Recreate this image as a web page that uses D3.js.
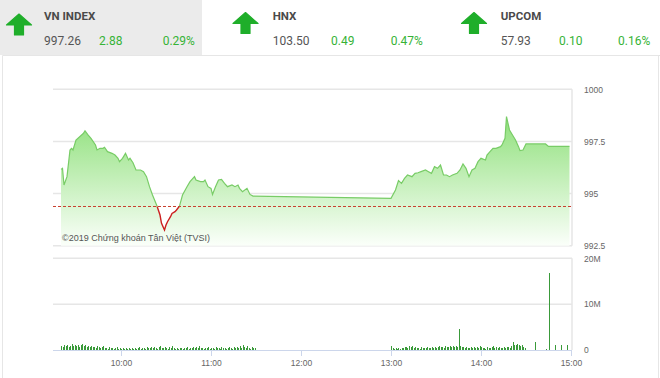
<!DOCTYPE html>
<html>
<head>
<meta charset="utf-8">
<script src="https://cdnjs.cloudflare.com/ajax/libs/d3/7.8.5/d3.min.js"></script>
<style>
body{margin:0;background:#fff;}
svg{display:block;}
.hdr{font-family:Roboto, 'Liberation Sans', sans-serif;}
.ax text{font-family:'Liberation Sans', Arial, sans-serif;font-size:8.5px;fill:#666;}
</style>
</head>
<body>
<svg id="chart" width="660" height="378"></svg>
<script>
// index summary (header boxes)
var indexNames = ['VN INDEX', 'HNX', 'UPCOM'];
var indexValues = ['997.26', '103.50', '57.93'];
var indexChanges = ['2.88', '0.49', '0.10'];
var indexPercents = ['0.29%', '0.47%', '0.16%'];

// VN-Index intraday, previous close = reference
var refPrice = 994.38;
var priceTimes = ['09:20','09:21','09:22','09:24','09:26','09:27','09:28','09:30','09:33','09:35',
	'09:36','09:38','09:40','09:43','09:44','09:46','09:48','09:49','09:51','09:54',
	'09:56','09:58','09:59','10:01','10:03','10:05','10:06','10:08','10:10','10:13',
	'10:15','10:17','10:19','10:21','10:24','10:26','10:27','10:29','10:30','10:31',
	'10:33','10:34','10:36','10:37','10:39','10:41','10:44','10:46','10:49','10:50',
	'10:53','10:55','10:56','10:58','11:00','11:01','11:03','11:05','11:07','11:09',
	'11:11','11:14','11:16','11:18','11:19','11:21','11:24','11:26','11:28',
	'13:00','13:03','13:05','13:07','13:09','13:11','13:14','13:16','13:18','13:20',
	'13:23','13:25','13:27','13:29','13:31','13:33','13:35','13:37','13:39','13:41',
	'13:44','13:46','13:48','13:50','13:52','13:54','13:56','13:58','14:00','14:03',
	'14:04','14:06','14:08','14:10','14:13','14:14','14:16','14:17','14:19','14:21',
	'14:23','14:25','14:26','14:28','14:30','14:43','14:45','14:59'];
var priceValues = [996.16,996.21,995.41,995.81,997.09,997.17,997.09,997.57,997.76,997.89,
	998.01,997.81,997.65,997.33,997.09,997.17,997.17,997.22,997.01,996.93,
	996.85,996.69,996.53,996.69,996.93,996.61,996.69,996.48,996.13,996.13,
	996.05,995.81,995.33,994.93,994.40,993.97,993.57,993.25,993.49,993.65,
	993.89,994.05,994.13,994.21,994.40,994.93,995.33,995.57,995.81,995.65,
	995.57,995.57,995.65,995.33,995.25,994.96,995.33,995.65,995.68,995.49,
	995.33,995.41,995.33,995.41,995.25,995.09,995.25,994.96,994.88,
	994.77,995.17,995.62,995.49,995.73,995.89,995.81,995.97,996.00,996.05,
	996.13,996.05,995.97,996.29,996.21,996.37,995.89,995.89,995.81,995.89,
	995.97,996.13,996.42,996.21,995.81,996.13,996.21,996.53,996.69,996.61,
	996.85,997.01,997.17,997.17,997.25,997.33,997.65,998.69,998.05,997.81,
	997.57,997.25,997.06,997.09,997.38,997.38,997.26,997.26];

// matched volume per minute, millions of shares
var morningStart = '09:20';
var morningVolumes = [0.9,0.6,1.0,0.8,1.1,0.7,0.9,1.2,0.8,1.0,
	0.9,1.1,0.7,1.0,1.3,0.8,1.0,0.6,0.9,0.7,
	0.8,0.6,0.7,0.5,0.8,0.6,0.5,0.7,0.9,0.4,
	0.5,0.3,0.6,0.4,0.5,0.3,0.4,0.6,0.3,0.4,
	0.3,0.5,0.3,0.4,0.2,0.4,0.3,0.5,0.3,0.4,
	0.3,0.4,0.6,0.3,0.5,0.4,0.3,0.7,0.4,0.5,
	0.6,0.4,0.7,0.5,0.3,0.6,0.8,0.5,0.4,0.6,
	0.5,0.3,0.6,0.4,0.9,0.5,0.3,0.4,0.3,0.5,
	0.4,0.3,0.5,0.4,0.6,0.3,0.4,0.5,0.7,0.4,
	0.6,0.4,0.8,0.5,0.4,0.3,0.5,0.4,0.6,0.3,
	0.4,0.5,0.3,0.6,0.4,0.5,0.3,0.7,0.4,0.5,
	0.3,0.4,0.6,0.5,0.3,0.7,0.4,0.6,0.5,0.8,
	0.5,1.1,0.6,0.4,0.9,0.5,0.3,0.6,0.4,0.5];
var afternoonStart = '13:00';
var afternoonVolumes = [0.8,0.4,0.3,0.5,0.3,0.4,0.3,0.5,0.4,0.6,
	0.7,0.5,0.9,0.6,0.8,0.5,0.6,0.4,0.5,0.3,
	0.6,0.4,0.5,0.4,0.6,0.5,0.4,0.6,0.5,0.7,
	0.5,0.6,0.8,0.6,0.7,0.5,0.9,0.6,0.7,0.8,
	0.6,0.9,0.7,0.8,0.6,4.6,0.9,0.7,0.6,0.5,
	0.6,0.4,0.5,0.6,0.4,0.7,0.5,0.6,0.4,0.8,
	0.6,0.4,0.5,0.3,0.6,0.5,0.4,0.6,0.9,0.5,
	0.7,0.4,0.6,0.5,0.4,0.6,0.5,0.7,0.6,0.5,
	0.8,1.7,1.1,1.0,1.2,1.0,0.9,1.0,0.6,0.4];
var lateTimes = ['14:36','14:43','14:45','14:49','14:53','14:57'];
var lateVolumes = [1.7, 0.3, 16.8, 1.1, 1.0, 1.1];

// axes
var priceTicks = [992.5, 995, 997.5, 1000];
var volumeTicks = [0, 10, 20];
var volumeTickLabels = ['0', '10M', '20M'];
var timeTicks = ['10:00','11:00','12:00','13:00','14:00','15:00'];
var copyright = '\u00a92019 Chứng khoán Tân Việt (TVSI)';

var parseTime = d3.timeParse('%H:%M');
var svg = d3.select('#chart');

var plotLeft = 53, plotRight = 572;
var x = d3.scaleTime().domain([parseTime('09:15'), parseTime('15:00')]).range([53.5, 571]);
var priceY = d3.scaleLinear().domain([992.5, 1000]).range([245.7, 89.3]);
var volY = d3.scaleLinear().domain([0, 20]).range([350, 258.3]);

drawHeader();
drawPanel();
drawPrice();
drawVolume();
drawTimeAxis();

//three index boxes across the top
function drawHeader(){
	svg.append('rect').attr('x', 0).attr('y', 0).attr('width', 202).attr('height', 55).attr('fill', '#ebebeb');

	var boxX = [0, 228, 456];
	var arrowX = [19, 245.5, 474];
	var arrowTop = [14, 12.5, 12.5];
	var textX = [44, 272.7, 500.7];
	var chgX = [99, 331, 559];
	var pctX = [162.7, 390.7, 618];

	indexNames.forEach(function(name, i){
		var g = svg.append('g').attr('class', 'hdr');
		//up arrow
		var ax = arrowX[i], ay = arrowTop[i];
		var pts = [[0,0],[12.5,11],[4.5,11],[4.5,21],[-4.5,21],[-4.5,11],[-12.5,11]];
		g.append('path')
			.attr('d', d3.line()(pts.map(function(p){ return [ax + p[0], ay + p[1]]; })) + 'Z')
			.attr('fill', '#1fae2a')
			.attr('stroke', '#1fae2a')
			.attr('stroke-width', 1.2)
			.attr('stroke-linejoin', 'round');

		g.append('text').attr('x', textX[i]).attr('y', 20)
			.attr('font-size', 11.5).attr('font-weight', 'bold').attr('fill', '#4a4a4a')
			.text(name);
		g.append('text').attr('x', textX[i]).attr('y', 45)
			.attr('font-size', 12).attr('fill', '#555').text(indexValues[i]);
		g.append('text').attr('x', chgX[i]).attr('y', 45)
			.attr('font-size', 12).attr('fill', '#36b336').text(indexChanges[i]);
		g.append('text').attr('x', pctX[i]).attr('y', 45)
			.attr('font-size', 12).attr('fill', '#36b336').text(indexPercents[i]);
	});
}

//outer frame + grid of both panes
function drawPanel(){
	svg.append('line').attr('x1', 202).attr('x2', 660).attr('y1', 55.5).attr('y2', 55.5)
		.attr('stroke', '#e2e2e2');
	svg.append('path').attr('d', 'M2.5,378V55.5H658.5V378')
		.attr('fill', 'none').attr('stroke', '#e6e6e6');

	var grid = svg.append('g').attr('stroke', '#e6e6e6').attr('stroke-width', 1.5).attr('fill', 'none');
	priceTicks.forEach(function(t){
		grid.append('line').attr('x1', plotLeft).attr('x2', plotRight)
			.attr('y1', priceY(t)).attr('y2', priceY(t));
	});
	grid.append('line').attr('x1', plotRight).attr('x2', plotRight)
		.attr('y1', priceY(1000)).attr('y2', priceY(992.5));
	volumeTicks.slice(1).forEach(function(t){
		grid.append('line').attr('x1', plotLeft).attr('x2', plotRight)
			.attr('y1', volY(t)).attr('y2', volY(t));
	});
	grid.append('line').attr('x1', plotRight).attr('x2', plotRight)
		.attr('y1', volY(20)).attr('y2', volY(0));

	var pAxis = d3.axisRight(priceY).tickValues(priceTicks).tickSize(0).tickPadding(0)
		.tickFormat(function(d){ return d; });
	svg.append('g').attr('class', 'ax').attr('transform', 'translate(584,0)').call(pAxis)
		.call(function(g){ g.select('.domain').remove(); });

	var vAxis = d3.axisRight(volY).tickValues(volumeTicks).tickSize(0).tickPadding(0)
		.tickFormat(function(d, i){ return volumeTickLabels[i]; });
	svg.append('g').attr('class', 'ax').attr('transform', 'translate(584,0)').call(vAxis)
		.call(function(g){ g.select('.domain').remove(); });
}

function drawPrice(){
	var data = priceTimes.map(function(t, i){
		return {t: parseTime(t), v: priceValues[i]};
	});
	var refY = priceY(refPrice);

	var defs = svg.append('defs');
	var grad = defs.append('linearGradient').attr('id', 'fillGrad')
		.attr('gradientUnits', 'userSpaceOnUse')
		.attr('x1', 0).attr('x2', 0).attr('y1', priceY(998.7)).attr('y2', priceY(992.5));
	grad.append('stop').attr('offset', 0).attr('stop-color', '#8fe07b');
	grad.append('stop').attr('offset', 1).attr('stop-color', '#fbfffa');

	defs.append('clipPath').attr('id', 'above').append('rect')
		.attr('x', 0).attr('y', 0).attr('width', 660).attr('height', refY);
	defs.append('clipPath').attr('id', 'below').append('rect')
		.attr('x', 0).attr('y', refY).attr('width', 660).attr('height', 100);

	var area = d3.area()
		.x(function(d){ return x(d.t); })
		.y0(priceY(992.5))
		.y1(function(d){ return priceY(d.v); });
	var line = d3.line()
		.x(function(d){ return x(d.t); })
		.y(function(d){ return priceY(d.v); });

	svg.append('path').datum(data).attr('d', area).attr('fill', 'url(#fillGrad)');

	//reference (previous close)
	svg.append('line').attr('x1', plotLeft).attr('x2', plotRight)
		.attr('y1', refY).attr('y2', refY)
		.attr('stroke', '#c8402e').attr('stroke-width', 1).attr('stroke-dasharray', '3,2');

	svg.append('path').datum(data).attr('d', line).attr('fill', 'none')
		.attr('stroke', '#78cc66').attr('stroke-width', 1.2).attr('clip-path', 'url(#above)');
	svg.append('path').datum(data).attr('d', line).attr('fill', 'none')
		.attr('stroke', '#cc1f1f').attr('stroke-width', 1.4).attr('clip-path', 'url(#below)');

	svg.append('text').attr('x', 62).attr('y', 241)
		.attr('font-family', "'Liberation Sans', Arial, sans-serif")
		.attr('font-size', 9).attr('fill', '#555')
		.text(copyright);
}

function drawVolume(){
	var bars = [];
	morningVolumes.forEach(function(v, i){
		bars.push({t: d3.timeMinute.offset(parseTime(morningStart), i), v: v});
	});
	afternoonVolumes.forEach(function(v, i){
		bars.push({t: d3.timeMinute.offset(parseTime(afternoonStart), i), v: v});
	});
	lateTimes.forEach(function(t, i){
		bars.push({t: parseTime(t), v: lateVolumes[i]});
	});

	svg.append('g').selectAll('line').data(bars).join('line')
		.attr('x1', function(d){ return Math.round(x(d.t)) + 0.5; })
		.attr('x2', function(d){ return Math.round(x(d.t)) + 0.5; })
		.attr('y1', volY(0))
		.attr('y2', function(d){ return volY(d.v); })
		.attr('stroke', '#3a9a3a').attr('stroke-width', 1)
		.attr('shape-rendering', 'crispEdges');
}

function drawTimeAxis(){
	var tAxis = d3.axisBottom(x).tickValues(timeTicks.map(parseTime))
		.tickFormat(d3.timeFormat('%H:%M')).tickSize(6).tickSizeOuter(0).tickPadding(4);
	var g = svg.append('g').attr('class', 'ax').attr('transform', 'translate(0,' + volY(0) + ')').call(tAxis);
	g.select('.domain').attr('stroke', '#ccd6eb').attr('d', 'M' + plotLeft + ',0.5H' + plotRight);
	g.selectAll('.tick line').attr('stroke', '#ccd6eb');
}
</script>
</body>
</html>
